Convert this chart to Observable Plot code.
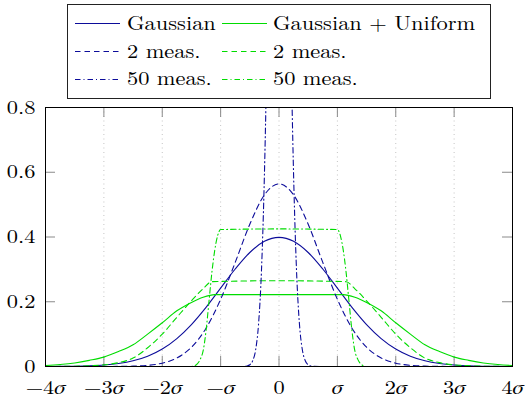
<!DOCTYPE html>
<html>
<head>
<meta charset="utf-8">
<script src="https://cdn.jsdelivr.net/npm/d3@7"></script>
<script src="https://cdn.jsdelivr.net/npm/@observablehq/plot@0.6"></script>
<style>
  html, body { margin: 0; padding: 0; background: #fff; }
  #wrap { position: relative; width: 525px; height: 403px; font-family: "Latin Modern Roman", "FreeSerif", serif; }
  #chart { position: absolute; left: 0; top: 0; }
  #legend { position: absolute; left: 67px; top: 4px; }
</style>
</head>
<body>
<div id="wrap">
  <div id="chart"></div>
  <div id="legend"></div>
</div>
<script>
// ---- data ----
const xTicks = [-4, -3, -2, -1, 0, 1, 2, 3, 4];
const xTickLabels = ["−4σ", "−3σ", "−2σ", "−σ", "0", "σ", "2σ", "3σ", "4σ"];
const yTicks = [0, 0.2, 0.4, 0.6, 0.8];
const yTickLabels = ["0", "0.2", "0.4", "0.6", "0.8"];

const seriesNames = ["Gaussian", "Gaussian + Uniform", "2 meas.", "2 meas.", "50 meas.", "50 meas."];

const gaussX = [-4,-3.75,-3.5,-3.25,-3,-2.75,-2.5,-2.25,-2,-1.75,-1.5,-1.25,-1,-0.75,-0.5,-0.25,0,0.25,0.5,0.75,1,1.25,1.5,1.75,2,2.25,2.5,2.75,3,3.25,3.5,3.75,4];
const gaussY = [0.0001,0.0004,0.0009,0.0020,0.0044,0.0091,0.0175,0.0317,0.0540,0.0863,0.1295,0.1826,0.2420,0.3011,0.3521,0.3867,0.3989,0.3867,0.3521,0.3011,0.2420,0.1826,0.1295,0.0863,0.0540,0.0317,0.0175,0.0091,0.0044,0.0020,0.0009,0.0004,0.0001];
const gauss2Y = [0,0,0,0,0.0001,0.0003,0.0011,0.0036,0.0103,0.0264,0.0595,0.1183,0.2076,0.3215,0.4394,0.5300,0.5642,0.5300,0.4394,0.3215,0.2076,0.1183,0.0595,0.0264,0.0103,0.0036,0.0011,0.0003,0.0001,0,0,0,0];

const gauss50X = [-4,-1,-0.7,-0.6,-0.55,-0.5,-0.45,-0.4,-0.35,-0.3,-0.25,-0.2,-0.15,-0.1,-0.05,0,0.05,0.1,0.15,0.2,0.25,0.3,0.35,0.4,0.45,0.5,0.55,0.6,0.7,1,4];
const gauss50Y = [0,0,0,0.0004,0.0015,0.0054,0.0179,0.0517,0.1320,0.2973,0.5912,1.0377,1.607,2.197,2.650,2.8209,2.650,2.197,1.607,1.0377,0.5912,0.2973,0.1320,0.0517,0.0179,0.0054,0.0015,0.0004,0,0,0];

const unifX = [-4,-3.75,-3.5,-3.25,-3,-2.75,-2.5,-2.25,-2,-1.75,-1.5,-1.3,-1.1,0,1.1,1.3,1.5,1.75,2,2.25,2.5,2.75,3,3.25,3.5,3.75,4];
const unifY = [0.003,0.006,0.011,0.019,0.029,0.046,0.067,0.100,0.135,0.172,0.198,0.214,0.222,0.222,0.222,0.214,0.198,0.172,0.135,0.100,0.067,0.046,0.029,0.019,0.011,0.006,0.003];

const unif2X = [-4,-3.5,-3,-2.75,-2.5,-2.25,-2,-1.75,-1.5,-1.3,-1.15,0,1.15,1.3,1.5,1.75,2,2.25,2.5,2.75,3,3.5,4];
const unif2Y = [0,0.001,0.005,0.012,0.026,0.058,0.100,0.152,0.203,0.240,0.262,0.265,0.262,0.240,0.203,0.152,0.100,0.058,0.026,0.012,0.005,0.001,0];

const unif50X = [-4,-1.5,-1.45,-1.4,-1.35,-1.3,-1.25,-1.2,-1.15,-1.1,-1.05,-1.0,0,1.0,1.05,1.1,1.15,1.2,1.25,1.3,1.35,1.4,1.45,1.5,4];
const unif50Y = [0,0,0.002,0.008,0.022,0.048,0.110,0.200,0.290,0.360,0.405,0.423,0.425,0.423,0.405,0.360,0.290,0.200,0.110,0.048,0.022,0.008,0.002,0,0];

// ---- styles ----
const BLUE = "#0c0c9a";
const GREEN = "#00dc00";
const DASH = "5.5,4";
const DASHDOT = "5.5,3,1,3";
const FONT = '"Latin Modern Roman", "FreeSerif", serif';
const SIGMA_FONT = '"FreeSerif", "Latin Modern Math", serif';
const FS = "19.5px";
const SX = 1.15; // horizontal stretch of the reference's glyphs

const pts = (xs, ys) => xs.map((x, i) => ({x, y: ys[i]}));

const W = 525, H = 403;
const mL = 45, mR = 13, mT = 107, mB = 37;
const xDom = [-4, 4], yDom = [0, 0.8];
const tickPx = 10;
const tyLen = tickPx * (yDom[1] - yDom[0]) / (H - mT - mB);
const txLen = tickPx * (xDom[1] - xDom[0]) / (W - mL - mR);
const gridTicks = xTicks.filter(d => d > xDom[0] && d < xDom[1]);
const lineOpts = {x: "x", y: "y", strokeWidth: 1.1, curve: "monotone-x", clip: true};

const chart = Plot.plot({
  width: W, height: H,
  marginLeft: mL, marginRight: mR, marginTop: mT, marginBottom: mB,
  x: {domain: xDom},
  y: {domain: yDom},
  style: {fontFamily: FONT, fontSize: FS, background: "white", color: "black"},
  marks: [
    Plot.ruleX(gridTicks, {x: d => d, stroke: "#c4c4c4", strokeDasharray: "1,3.5", strokeWidth: 1}),
    Plot.ruleX(xTicks, {x: d => d, y1: yDom[0], y2: yDom[0] + tyLen, stroke: "#8a8a8a", strokeWidth: 1}),
    Plot.ruleX(xTicks, {x: d => d, y1: yDom[1] - tyLen, y2: yDom[1], stroke: "#8a8a8a", strokeWidth: 1}),
    Plot.ruleY(yTicks, {y: d => d, x1: xDom[0], x2: xDom[0] + txLen, stroke: "#8a8a8a", strokeWidth: 1}),
    Plot.ruleY(yTicks, {y: d => d, x1: xDom[1] - txLen, x2: xDom[1], stroke: "#8a8a8a", strokeWidth: 1}),
    Plot.line(pts(gaussX, gaussY), {...lineOpts, stroke: BLUE}),
    Plot.line(pts(unifX, unifY), {...lineOpts, stroke: GREEN}),
    Plot.line(pts(gaussX, gauss2Y), {...lineOpts, stroke: BLUE, strokeDasharray: DASH}),
    Plot.line(pts(unif2X, unif2Y), {...lineOpts, stroke: GREEN, strokeDasharray: DASH}),
    Plot.line(pts(gauss50X, gauss50Y), {...lineOpts, stroke: BLUE, strokeDasharray: DASHDOT}),
    Plot.line(pts(unif50X, unif50Y), {...lineOpts, stroke: GREEN, strokeDasharray: DASHDOT}),
    Plot.frame({stroke: "black", strokeWidth: 1}),
    Plot.axisX({ticks: xTicks, tickSize: 0, tickPadding: 14, label: null,
      tickFormat: d => xTickLabels[xTicks.indexOf(d)]}),
    Plot.axisY({ticks: yTicks, tickSize: 0, tickPadding: 10, label: null,
      tickFormat: d => yTickLabels[yTicks.indexOf(d)]})
  ]
});
document.getElementById("chart").appendChild(chart);

// stretch a text element horizontally around its anchor
function stretch(el) {
  const tr = el.getAttribute("transform");
  if (tr && tr.includes("translate")) {
    el.setAttribute("transform", tr + ` scale(${SX},1)`);
  } else {
    const x = +el.getAttribute("x") || 0, y = +el.getAttribute("y") || 0;
    el.setAttribute("x", 0); el.setAttribute("y", 0);
    el.setAttribute("transform", `translate(${x},${y}) scale(${SX},1)` + (tr ? " " + tr : ""));
  }
}

// italic sigma in x tick labels
d3.select(chart).selectAll('g[aria-label="x-axis tick label"] text').each(function() {
  const t = this.textContent;
  if (t.includes("σ")) {
    const pre = t.replace("σ", "");
    const sel = d3.select(this);
    sel.text(null);
    if (pre) sel.append("tspan").text(pre);
    sel.append("tspan").attr("font-style", "italic").attr("font-family", SIGMA_FONT).text("σ");
  }
  stretch(this);
});
d3.select(chart).selectAll('g[aria-label="y-axis tick label"] text').each(function() { stretch(this); });

// ---- legend ----
const legendEntries = [
  {name: seriesNames[0], color: BLUE, dash: null, col: 0, row: 0},
  {name: seriesNames[1], color: GREEN, dash: null, col: 1, row: 0},
  {name: seriesNames[2], color: BLUE, dash: DASH, col: 0, row: 1},
  {name: seriesNames[3], color: GREEN, dash: DASH, col: 1, row: 1},
  {name: seriesNames[4], color: BLUE, dash: DASHDOT, col: 0, row: 2},
  {name: seriesNames[5], color: GREEN, dash: DASHDOT, col: 1, row: 2}
];
const LW = 424, LH = 95;
const leg = d3.select("#legend").append("svg").attr("width", LW).attr("height", LH)
  .style("font-family", FONT).style("font-size", FS);
leg.append("rect").attr("x", 0.5).attr("y", 0.5).attr("width", LW - 1).attr("height", LH - 1)
  .attr("fill", "white").attr("stroke", "#222").attr("stroke-width", 1);
const colLineX = [8, 155], colTextX = [60, 206];
const rowLineY = [19.5, 47.5, 75.5], rowTextY = [26, 53.5, 81];
for (const e of legendEntries) {
  const l = leg.append("line")
    .attr("x1", colLineX[e.col]).attr("x2", colLineX[e.col] + 45)
    .attr("y1", rowLineY[e.row]).attr("y2", rowLineY[e.row])
    .attr("stroke", e.color).attr("stroke-width", 1.1);
  if (e.dash) l.attr("stroke-dasharray", e.dash);
  leg.append("text")
    .attr("transform", `translate(${colTextX[e.col]},${rowTextY[e.row]}) scale(${SX},1)`)
    .text(e.name);
}
</script>
</body>
</html>
